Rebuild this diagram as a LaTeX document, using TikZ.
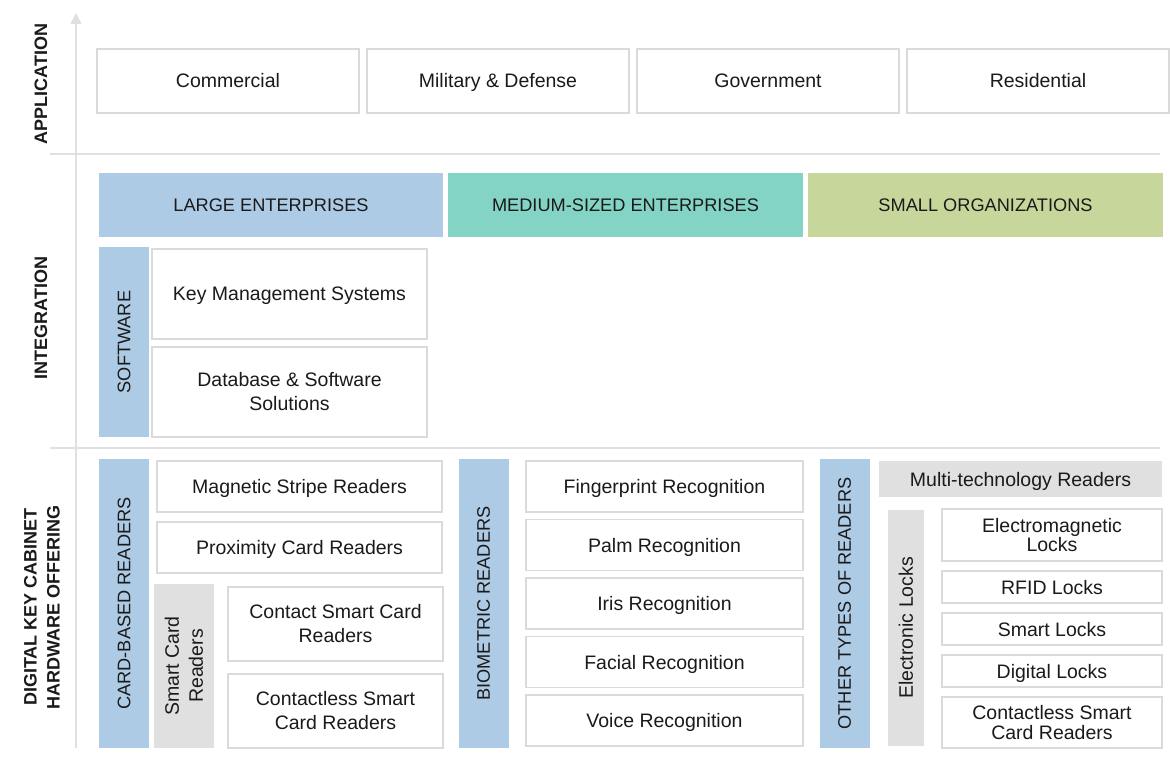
\documentclass[tikz,border=0pt]{standalone}
\usepackage{fontspec}
\setmainfont{Liberation Sans}
\usepackage{xcolor}
\usetikzlibrary{arrows.meta,positioning}
\definecolor{barblue}{RGB}{174,203,230}
\definecolor{barteal}{RGB}{132,212,197}
\definecolor{barolive}{RGB}{199,215,155}
\definecolor{cellgray}{RGB}{224,224,224}
\definecolor{cellline}{RGB}{218,218,218}
\definecolor{rulegray}{RGB}{224,224,224}
\definecolor{inkgray}{RGB}{26,26,26}

\begin{document}
\begin{tikzpicture}[x=1pt, y=-1pt,
  font=\fontsize{19.5}{24}\selectfont, text=inkgray,
  cell/.style={draw=cellline, line width=1.4pt, fill=white, align=center, inner sep=0pt, outer sep=0pt},
  one/.style={text height=14pt, text depth=0pt},
  tight/.style={font=\fontsize{19.5}{19.5}\selectfont},
  caps/.style={font=\fontsize{18.2}{22}\selectfont},
  appbox/.style={cell, one, minimum width=262pt, minimum height=64pt},
  hdr/.style={caps, minimum height=64pt, inner sep=0pt, outer sep=0pt},
  vbar/.style={caps, fill=barblue, rotate=90, inner sep=0pt, outer sep=0pt, minimum height=50pt},
  gbar/.style={fill=cellgray, rotate=90, align=center, inner sep=0pt, outer sep=0pt},
  bioitem/.style={cell, one, minimum width=277pt, minimum height=51pt},
  lockitem/.style={cell, one, minimum width=220pt, minimum height=32pt},
  side/.style={rotate=90, align=center, font=\bfseries\fontsize{18}{23}\selectfont},
  rule/.style={draw=rulegray, line width=2pt},
  node distance=8pt,
]
\useasboundingbox (0,0) rectangle (1170,759);

\coordinate (sepAl) at (50,154);
\coordinate (sepAr) at (1160,154);
\coordinate (sepBl) at (50,448);
\coordinate (sepBr) at (1160,448);
\coordinate (axbot) at (76,748);
\coordinate (axtop) at (76,13);
\draw[rule] (sepAl) -- (sepAr);
\draw[rule] (sepBl) -- (sepBr);
\draw[rule, line width=1.6pt, -{Triangle[width=11pt,length=11pt]}, color=rulegray] (axbot) -- (axtop);

\node[side] (appl) at (41,84) {APPLICATION};
\node[side] (integ) at (41,318) {INTEGRATION};
\node[side] (hw) at (42,607) {DIGITAL KEY CABINET\\HARDWARE OFFERING};

\node[appbox] (comm) at (228,81) {Commercial};
\node[appbox, right=of comm] (mil) {Military \& Defense};
\node[appbox, right=of mil] (gov) {Government};
\node[appbox, right=of gov] (resi) {Residential};

\node[hdr, fill=barblue, minimum width=344pt] (large) at (271,205) {LARGE ENTERPRISES};
\node[hdr, fill=barteal, minimum width=355pt, right=5pt of large] (medium) {MEDIUM-SIZED ENTERPRISES};
\node[hdr, fill=barolive, minimum width=355pt, right=5pt of medium] (small) {SMALL ORGANIZATIONS};

\node[vbar, minimum width=190pt] (soft) at (124,342) {SOFTWARE};
\node[cell, one, minimum width=275pt, minimum height=90pt] (keymgmt) at (289.5,294) {Key Management Systems};
\node[cell, minimum width=275pt, minimum height=90pt, below=of keymgmt] (dbsoft) {Database \& Software\\Solutions};

\node[vbar, minimum width=289pt] (card) at (124,603.5) {CARD-BASED READERS};
\node[cell, one, minimum width=285pt, minimum height=51pt] (magn) at (299.5,486.5) {Magnetic Stripe Readers};
\node[cell, one, minimum width=285pt, minimum height=51pt, below=10pt of magn] (prox) {Proximity Card Readers};
\node[gbar, minimum width=164pt, minimum height=60pt] (smartcard) at (184,666) {Smart Card\\Readers};
\node[cell, minimum width=215pt, minimum height=74pt] (contact) at (335.5,624) {Contact Smart Card\\Readers};
\node[cell, minimum width=215pt, minimum height=74pt, below=13pt of contact] (ctless) {Contactless Smart\\Card Readers};

\node[vbar, minimum width=289pt] (bio) at (483.5,603.5) {BIOMETRIC READERS};
\node[bioitem] (finger) at (664.5,486.5) {Fingerprint Recognition};
\node[bioitem, below=7.5pt of finger] (palm) {Palm Recognition};
\node[bioitem, below=7.5pt of palm] (iris) {Iris Recognition};
\node[bioitem, below=7.5pt of iris] (facial) {Facial Recognition};
\node[bioitem, below=7.5pt of facial] (voice) {Voice Recognition};

\node[vbar, minimum width=289pt] (other) at (844.5,603.5) {OTHER TYPES OF READERS};
\node[fill=cellgray, one, inner sep=0pt, minimum width=283pt, minimum height=36pt] (multi) at (1020.5,479) {Multi-technology Readers};
\node[gbar, minimum width=236pt, minimum height=36pt] (elock) at (906,628) {Electronic Locks};
\node[cell, tight, minimum width=220pt, minimum height=52pt] (emag) at (1052,535) {Electromagnetic\\Locks};
\node[lockitem, below=10pt of emag] (rfid) {RFID Locks};
\node[lockitem, below=10pt of rfid] (smartlk) {Smart Locks};
\node[lockitem, below=10pt of smartlk] (digital) {Digital Locks};
\node[cell, tight, minimum width=220pt, minimum height=51pt, below=10pt of digital] (ctlesslk) {Contactless Smart\\Card Readers};
\end{tikzpicture}
\end{document}
